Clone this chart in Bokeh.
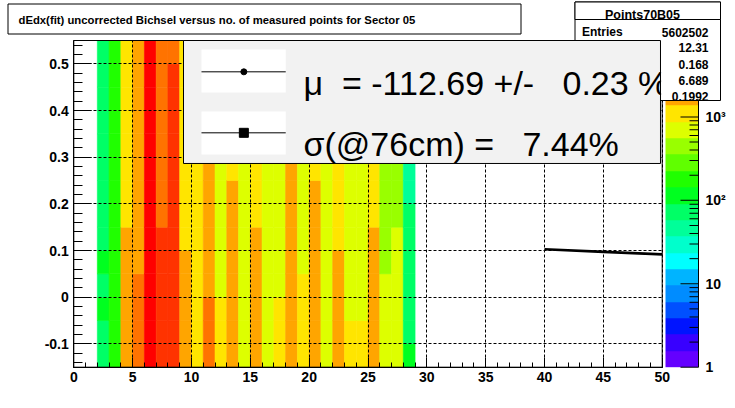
import math
from bokeh.plotting import figure
from bokeh.models import (LogColorMapper, ColorBar, FixedTicker, BoxAnnotation,
                          Label, ColumnDataSource, Range1d, LinearAxis, Grid)
from bokeh.transform import transform
from bokeh.embed import file_html
from bokeh.resources import INLINE

# ---------------- data ----------------
x_bin_low = [2, 3, 4, 5, 6, 7, 8, 9, 10, 11, 12, 13, 14, 15, 16, 17, 18, 19, 20,
             21, 22, 23, 24, 25, 26, 27, 28]
y_bin_low = [-0.15, -0.10, -0.05, 0.00, 0.05, 0.10, 0.15, 0.20, 0.25, 0.30,
             0.35, 0.40, 0.45, 0.50]
x_bin_width = 1.0
y_bin_width = 0.05

# counts per x bin, listed from the lowest y bin to the highest
counts = [
    [74, 80, 104, 86, 98, 83, 80, 78, 76, 75, 73, 71, 69, 67],                      # 2
    [170, 178, 185, 190, 192, 190, 187, 183, 180, 176, 172, 168, 164, 160],         # 3
    [1450, 1560, 1650, 1700, 1640, 1480, 1330, 1260, 1210, 1170, 1130, 1100, 1070, 1040],  # 4
    [2250, 2400, 2150, 2300, 2120, 2000, 1900, 1820, 1760, 1700, 1650, 1600, 1560, 1510],  # 5
    [6900, 7300, 7600, 7800, 7700, 7500, 7200, 6900, 6600, 6300, 6100, 5900, 5700, 5550],  # 6
    [3700, 3900, 4100, 4000, 3800, 3400, 3200, 3050, 2900, 2800, 2700, 2600, 2500, 2400],  # 7
    [4300, 4500, 4700, 4800, 4700, 4500, 4300, 4100, 3950, 3800, 3700, 3600, 3520, 3300],  # 8
    [1420, 1360, 1380, 1410, 1370, 1320, 1270, 1220, 1170, 1120, 1070, 1020, 970, 870],    # 9
    [1100, 1150, 1200, 1230, 1220, 1190, 1160, 1120, 1090, 1060, 1030, 1000, 970, 940],    # 10
    [2210, 2230, 2150, 2100, 2050, 1990, 1930, 1870, 1810, 1750, 1690, 1630, 1570, 1510],  # 11
    [900, 910, 870, 860, 850, 830, 810, 790, 770, 750, 730, 710, 690, 670],               # 12
    [1600, 1650, 1680, 1660, 1620, 1540, 1450, 1370, 1320, 1270, 1220, 1170, 1120, 1070],  # 13
    [800, 830, 850, 860, 850, 830, 810, 790, 770, 750, 730, 710, 690, 670],               # 14
    [1480, 1520, 1540, 1500, 1420, 1370, 1330, 1290, 1250, 1210, 1170, 1130, 1090, 1050],  # 15
    [760, 790, 810, 820, 810, 800, 780, 760, 740, 720, 700, 680, 660, 640],               # 16
    [890, 900, 870, 860, 850, 835, 815, 795, 775, 755, 735, 715, 695, 675],               # 17
    [1460, 1510, 1550, 1570, 1560, 1540, 1520, 1500, 1480, 1460, 1440, 1425, 1410, 1400],  # 18
    [900, 920, 905, 870, 850, 830, 810, 790, 770, 750, 730, 710, 690, 670],               # 19
    [1430, 1460, 1480, 1470, 1450, 1420, 1410, 1370, 1330, 1290, 1250, 1210, 1170, 1130],  # 20
    [700, 730, 750, 760, 755, 745, 730, 715, 700, 685, 670, 655, 640, 625],               # 21
    [1420, 1440, 1450, 1410, 1380, 1350, 1310, 1270, 1230, 1190, 1150, 1110, 1070, 1030],  # 22
    [890, 895, 860, 850, 840, 825, 805, 785, 765, 745, 725, 705, 685, 665],               # 23
    [895, 900, 855, 845, 835, 820, 800, 780, 760, 740, 720, 700, 680, 660],               # 24
    [1400, 1420, 1430, 1420, 1410, 1370, 1330, 1290, 1250, 1210, 1170, 1130, 1090, 1050],  # 25
    [600, 610, 590, 570, 550, 530, 510, 490, 470, 455, 440, 425, 410, 395],               # 26
    [620, 640, 650, 630, 600, 570, 540, 510, 480, 455, 430, 410, 390, 375],               # 27
    [95, 88, 84, 80, 75, 68, 62, 56, 52, 48, 45, 42, 40, 38],                             # 28
]

fit_x = [40.0, 45.0, 50.0]
fit_y = [0.1026, 0.0972, 0.0917]

x_lo, x_hi = 0, 50
y_lo, y_hi = -0.15, 0.55
x_ticks = [0, 5, 10, 15, 20, 25, 30, 35, 40, 45, 50]
x_minor = list(range(0, 51))
y_ticks = [-0.1, 0.0, 0.1, 0.2, 0.3, 0.4, 0.5]
y_tick_labels = ["-0.1", "0", "0.1", "0.2", "0.3", "0.4", "0.5"]
y_minor = [round(-0.14 + 0.02 * i, 2) for i in range(35)]
z_low, z_high = 1, 8240
z_ticks = [1, 10, 100, 1000]
z_tick_labels = ["1", "10", "10\u00b2", "10\u00b3"]
z_minor = [m * d for d in (1, 10, 100, 1000) for m in range(2, 10)]

palette = ["#6400ff", "#3800ff", "#0014ff", "#0050ff", "#008cff", "#00b4ff",
           "#00ffff", "#00ffcc", "#00ff99", "#00ff66", "#00ff20", "#20ff00",
           "#60ff00", "#99ff00", "#ddff00", "#ffe500", "#ffa500", "#ff7300",
           "#ff3300", "#ff0000"]

title_text = "dEdx(fit) uncorrected Bichsel versus no. of measured points for Sector 05"
stats_title = "Points70B05"
stats_names = ["Entries", "Mean x", "Mean y", "RMS x", "RMS y"]
stats_values = ["5602502", "12.31", "0.168", "6.689", "0.1992"]
NB = "\u00a0"
legend_texts = ["\u03bc" + NB * 2 + "= -112.69 +/-" + NB * 3 + "0.23 %",
                "\u03c3(@76cm) =" + NB * 3 + "7.44%"]

# ---------------- layout constants (canvas px) ----------------
FONT = "Liberation Sans"
W, H = 735, 408
FL, FT, FW, FH = 73.3, 40.0, 588.4, 326.7      # plotting area inside the canvas
xpx = FW / (x_hi - x_lo)
ypx = FH / (y_hi - y_lo)
x_range = Range1d(x_lo - FL / xpx, x_hi + (W - FL - FW) / xpx)
y_range = Range1d(y_lo - (H - FT - FH) / ypx, y_hi + FT / ypx)

p = figure(width=W, height=H, x_range=x_range, y_range=y_range,
           output_backend="svg", toolbar_location=None, title=None,
           x_axis_location=None, y_axis_location=None, min_border=0)
p.background_fill_color = "white"
p.border_fill_color = "white"
p.outline_line_color = None
p.xgrid.visible = False
p.ygrid.visible = False

mapper = LogColorMapper(palette=palette, low=z_low, high=z_high)

left, right, bottom, top, cnt = [], [], [], [], []
for i, xl in enumerate(x_bin_low):
    for j, yl in enumerate(y_bin_low):
        left.append(xl)
        right.append(xl + x_bin_width)
        bottom.append(yl)
        top.append(yl + y_bin_width)
        cnt.append(counts[i][j])
src = ColumnDataSource(dict(left=left, right=right, bottom=bottom, top=top, counts=cnt))
p.quad(left="left", right="right", bottom="bottom", top="top", source=src,
       fill_color=transform("counts", mapper), line_color=transform("counts", mapper),
       line_width=0.6)

p.line(fit_x, fit_y, line_color="black", line_width=2.6)

# axes, fixed to the edges of the plotting area
xaxis = LinearAxis(fixed_location=y_lo, bounds=(x_lo, x_hi),
                   ticker=FixedTicker(ticks=x_ticks, minor_ticks=x_minor),
                   major_tick_in=10, minor_tick_in=5)
yaxis = LinearAxis(fixed_location=x_lo, bounds=(y_lo, y_hi),
                   ticker=FixedTicker(ticks=y_ticks, minor_ticks=y_minor),
                   major_label_overrides={t: s for t, s in zip(y_ticks, y_tick_labels)},
                   major_tick_in=18, minor_tick_in=9)
for ax in (xaxis, yaxis):
    ax.major_label_text_font = FONT
    ax.major_label_text_font_style = "bold"
    ax.major_label_text_font_size = "14px"
    ax.major_label_text_color = "black"
    ax.major_tick_out = 0
    ax.minor_tick_out = 0
    ax.axis_line_color = "black"
    ax.major_tick_line_color = "black"
    ax.minor_tick_line_color = "black"
    ax.major_label_standoff = 5
p.add_layout(xaxis, "below")
p.add_layout(yaxis, "left")

# dashed grid restricted to the plotting area
grid_kw = dict(grid_line_color="black", grid_line_dash="3 2", grid_line_width=1, level="guide")
if "cross_bounds" in Grid.properties():
    p.add_layout(Grid(dimension=0, ticker=FixedTicker(ticks=x_ticks), bounds=(x_lo, x_hi),
                      cross_bounds=(y_lo, y_hi), **grid_kw))
    p.add_layout(Grid(dimension=1, ticker=FixedTicker(ticks=y_ticks), bounds=(y_lo, y_hi),
                      cross_bounds=(x_lo, x_hi), **grid_kw))
else:
    p.segment(x0=x_ticks, x1=x_ticks, y0=[y_lo] * len(x_ticks), y1=[y_hi] * len(x_ticks),
              line_color="black", line_dash="3 2", line_width=1, level="guide")
    p.segment(x0=[x_lo] * len(y_ticks), x1=[x_hi] * len(y_ticks), y0=y_ticks, y1=y_ticks,
              line_color="black", line_dash="3 2", line_width=1, level="guide")

# frame of the plotting area
p.add_layout(BoxAnnotation(left=x_lo, right=x_hi, bottom=y_lo, top=y_hi,
                           fill_alpha=0, fill_color=None, line_color="black",
                           line_alpha=1, line_width=1, level="annotation"))

# colour bar (its tick marks are drawn separately below)
CB_L, CB_W = 665, 33
cb = ColorBar(color_mapper=mapper, width=CB_W, height=int(round(FH)), padding=0, margin=0,
              location=(CB_L, H - FT - FH),
              ticker=FixedTicker(ticks=z_ticks, minor_ticks=z_minor),
              major_label_overrides={t: s for t, s in zip(z_ticks, z_tick_labels)},
              major_label_text_font=FONT, major_label_text_font_style="bold",
              major_label_text_font_size="14px", major_label_text_color="black",
              label_standoff=7,
              major_tick_in=0, minor_tick_in=0, major_tick_out=0, minor_tick_out=0,
              major_tick_line_color=None, minor_tick_line_color=None,
              bar_line_color=None, border_line_color=None, background_fill_color=None)
p.add_layout(cb)

# helpers: canvas px (y downwards) -> screen units of the frame (y upwards)
def box(l, r, t, b, fill="white", line="black", level="annotation"):
    return BoxAnnotation(left=l, right=r, top=H - t, bottom=H - b,
                         left_units="screen", right_units="screen",
                         top_units="screen", bottom_units="screen",
                         fill_color=fill, fill_alpha=1 if fill else 0, line_color=line,
                         line_alpha=1, line_width=1, level=level)

def label(cx, cy, text, size="12px", align="left", bold=True, level="annotation"):
    return Label(x=cx, y=H - cy, x_units="screen", y_units="screen", text=text,
                 text_font=FONT, text_font_size=size,
                 text_font_style="bold" if bold else "normal",
                 text_align=align, text_baseline="alphabetic", text_color="black",
                 level=level)

# title box
p.add_layout(box(7.5, 520.5, 3.5, 33.5))
p.add_layout(label(18, 19.5, title_text, size="11.3px"))

# statistics box (its lower-left part is hidden by the legend box)
p.add_layout(box(574.5, 720, 1.5, 100))
p.add_layout(box(574.5, 720, 1.5, 19))
p.add_layout(label(642, 14.5, stats_title, size="12.5px", align="center"))
stat_rows = [31.5, 47, 63.8, 80, 96.2]
for cy, nm in zip(stat_rows, stats_names):
    p.add_layout(label(581.5, cy, nm))

# legend box (on top of the plotting area)
p.quad(left=[9.322], right=[49.855], bottom=[0.2865], top=[y_hi], fill_color="#f2f2f2",
       line_color="black", line_width=1, level="overlay")
p.quad(left=[10.85, 10.85], right=[18.01, 18.01], bottom=[0.4386, 0.3057],
       top=[0.5307, 0.3979], fill_color="white", line_color=None, level="overlay")
p.segment(x0=[10.85, 10.85], x1=[18.01, 18.01], y0=[0.4829, 0.3522], y1=[0.4829, 0.3522],
          line_color="black", line_width=1, level="overlay")
p.scatter([14.45], [0.4829], marker="circle", size=6, fill_color="black",
          line_color="black", level="overlay")
p.scatter([14.45], [0.3522], marker="square", size=9, fill_color="black",
          line_color="black", level="overlay")
for yb, txt in zip([0.4585, 0.3287], legend_texts):
    p.add_layout(Label(x=19.52, y=yb, text=txt, text_font=FONT, text_font_size="34px",
                       text_color="black", text_baseline="alphabetic",
                       text_align="left", level="overlay"))

# colour-bar tick marks and axis line (thin filled boxes on the bar's log scale)
def z_to_cy(v):
    frac = math.log10(v / z_low) / math.log10(z_high / z_low)
    return FT + FH * (1 - frac)

cb_r = CB_L + CB_W
for v in z_ticks:
    cy = z_to_cy(v)
    p.add_layout(box(cb_r - 18, cb_r, cy - 0.5, cy + 0.5, fill="black", line=None,
                     level="overlay"))
for v in z_minor:
    if v <= z_high:
        cy = z_to_cy(v)
        p.add_layout(box(cb_r - 9, cb_r, cy - 0.5, cy + 0.5, fill="black", line=None,
                         level="overlay"))
p.add_layout(box(cb_r - 0.5, cb_r + 0.5, FT, FT + FH, fill="black", line=None,
                 level="overlay"))

# part of the statistics box that lies over the legend's right end and the colour bar top
p.add_layout(box(660.6, 719.5, 40, 99.5, line=None, level="overlay"))
for cy, vl in zip(stat_rows, stats_values):
    p.add_layout(label(708, cy, vl, align="right", level="overlay"))

open("out.html", "w").write(file_html(p, INLINE))
